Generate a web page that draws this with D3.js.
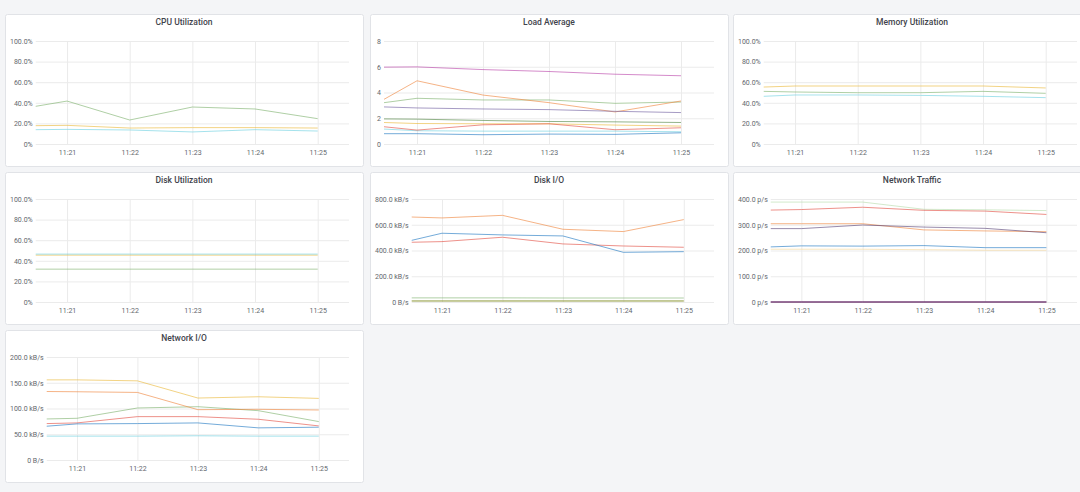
<!DOCTYPE html>
<html>
<head>
<meta charset="utf-8">
<script src="https://cdn.jsdelivr.net/npm/d3@7"></script>
<style>
html, body { margin: 0; padding: 0; background: #f4f5f7; overflow: hidden; }
text { font-family: Roboto, "Noto Sans", sans-serif; }
</style>
</head>
<body>
<div id="dashboard"></div>
<script>
// sample times (first sample sits at the left edge of the range)
const times = ["11:20:30", "11:21:00", "11:22:00", "11:23:00", "11:24:00", "11:25:00"];
const range = ["11:20:30", "11:25:30"];

// CPU Utilization (%)
const cpuA = [36.6, 41.7, 23.3, 35.9, 34.0, 24.6];
const cpuB = [17.8, 18.1, 15.5, 15.9, 15.9, 15.5];
const cpuC = [13.9, 14.2, 13.6, 11.7, 13.9, 12.6];

// Load Average
const loadA = [3.21, 3.55, 3.42, 3.42, 3.16, 3.26];
const loadB = [1.67, 1.59, 1.57, 1.57, 1.47, 1.39];
const loadC = [1.16, 1.03, 1.00, 1.00, 1.00, 0.95];
const loadD = [3.47, 4.91, 3.80, 3.21, 2.49, 3.34];
const loadE = [1.34, 1.08, 1.49, 1.57, 1.11, 1.26];
const loadF = [0.80, 0.80, 0.72, 0.77, 0.75, 0.87];
const loadG = [5.97, 5.99, 5.78, 5.63, 5.42, 5.30];
const loadH = [2.88, 2.80, 2.72, 2.67, 2.54, 2.44];
const loadI = [1.95, 1.93, 1.83, 1.75, 1.72, 1.67];

// Memory Utilization (%)
const memA = [51.1, 50.5, 49.8, 49.8, 51.1, 49.2];
const memB = [55.3, 56.3, 56.3, 56.3, 56.3, 54.4];
const memC = [46.3, 47.6, 47.6, 47.2, 46.3, 45.0];

// Disk Utilization (%)
const diskUtilA = [31.9, 31.9, 31.9, 31.9, 31.9, 31.9];
const diskUtilB = [45.5, 45.5, 45.5, 45.5, 45.5, 45.5];
const diskUtilC = [46.5, 46.5, 46.5, 46.5, 46.5, 46.5];

// Disk I/O (kB/s)
const diskIoA = [32, 32, 32, 31, 31, 31];
const diskIoB = [8, 8, 8, 8, 8, 8];
const diskIoC = [660, 653, 673, 565, 547, 640];
const diskIoD = [464, 469, 503, 451, 435, 425];
const diskIoE = [479, 534, 521, 513, 386, 391];
const diskIoF = [8, 8, 8, 8, 8, 8];

// Network Traffic (p/s)
const trafficA = [388, 388, 388, 360, 358, 355];
const trafficB = [205, 205, 205, 203, 201, 201];
const trafficC = [304, 304, 304, 280, 276, 273];
const trafficD = [357, 359, 368, 356, 353, 340];
const trafficE = [214, 218, 217, 219, 211, 211];
const trafficF = [285, 285, 299, 291, 286, 269];
const trafficG = [0, 0, 0, 0, 0, 0];
const trafficH = [0, 0, 0, 0, 0, 0];
const trafficI = [0, 0, 0, 0, 0, 0];

// Network I/O (kB/s)
const netIoA = [79.7, 81.0, 101.0, 103.5, 95.8, 74.6];
const netIoB = [155.6, 155.6, 153.7, 120.3, 122.8, 119.6];
const netIoC = [46.3, 46.3, 46.3, 47.0, 46.3, 46.3];
const netIoD = [133.0, 132.5, 131.2, 97.7, 98.4, 97.1];
const netIoE = [70.7, 72.0, 84.2, 84.2, 79.1, 66.2];
const netIoF = [65.6, 70.1, 70.7, 72.0, 62.4, 63.7];

const palette = ["#7EB26D", "#EAB839", "#6ED0E0", "#EF843C", "#E24D42", "#1F78C1",
    "#BA43A9", "#705DA0", "#508642", "#CCA300", "#447EBC", "#C15C17", "#890F02",
    "#0A437C", "#6D1F62", "#584477", "#B7DBAB", "#F4D598"];

const pct = v => v === 0 ? "0%" : v.toFixed(1) + "%";
const kBs = v => v === 0 ? "0 B/s" : v.toFixed(1) + " kB/s";
const pps = v => v === 0 ? "0 p/s" : v.toFixed(1) + " p/s";

let panels = [
    {title: "CPU Utilization", max: 100, step: 20, fmt: pct,
     series: [cpuA, cpuB, cpuC], colors: [0, 1, 2]},
    {title: "Load Average", max: 8, step: 2, fmt: d => String(d),
     series: [loadA, loadB, loadC, loadD, loadE, loadF, loadG, loadH, loadI], colors: [0, 1, 2, 3, 4, 5, 6, 7, 8]},
    {title: "Memory Utilization", max: 100, step: 20, fmt: pct,
     series: [memA, memB, memC], colors: [0, 1, 2]},
    {title: "Disk Utilization", max: 100, step: 20, fmt: pct,
     series: [diskUtilA, diskUtilB, diskUtilC], colors: [0, 1, 2]},
    {title: "Disk I/O", max: 800, step: 200, fmt: kBs,
     series: [diskIoA, diskIoB, diskIoC, diskIoD, diskIoE, diskIoF], colors: [0, 1, 3, 4, 5, 8]},
    {title: "Network Traffic", max: 400, step: 100, fmt: pps,
     series: [trafficA, trafficB, trafficC, trafficD, trafficE, trafficF, trafficG, trafficH, trafficI],
     colors: [16, 17, 3, 4, 5, 15, 14, 15, 14]},
    {title: "Network I/O", max: 200, step: 50, fmt: kBs,
     series: [netIoA, netIoB, netIoC, netIoD, netIoE, netIoF], colors: [0, 1, 2, 3, 4, 5]}
];

const colLeft = [5, 370, 733];
const rowTop = [14, 172, 330];
const W = 358, H = 152;
const plotTop = 27, plotBottom = 130;

const parse = d3.timeParse("%H:%M:%S");
const dates = times.map(parse);

const svg = d3.select("#dashboard").append("svg")
    .attr("width", 1080)
    .attr("height", 492);

function drawPanel(p, left, top) {
    const g = svg.append("g")
        .attr("transform", `translate(${left},${top})`);

    g.append("rect")
        .attr("x", 0.5).attr("y", 0.5)
        .attr("width", W).attr("height", H)
        .attr("rx", 2)
        .attr("fill", "#fff")
        .attr("stroke", "#e1e3e7");

    g.append("text")
        .attr("x", W / 2)
        .attr("y", 8)
        .attr("dy", "0.35em")
        .attr("text-anchor", "middle")
        .attr("fill", "#3f444c")
        .style("font-size", "8.5px")
        .style("font-weight", 500)
        .text(p.title);

    const yTicks = d3.range(0, p.max + p.step / 2, p.step);

    // measure the widest y label so the plot starts right after it
    let maxW = 0;
    const probe = g.append("g").style("font-size", "7px");
    probe.selectAll("text").data(yTicks).join("text")
        .text(p.fmt)
        .each(function() { maxW = Math.max(maxW, this.getComputedTextLength()); });
    probe.remove();

    const x0 = 5 + Math.max(maxW, 6) + 3;
    const x1 = W - 14;

    const x = d3.scaleTime()
        .domain(range.map(parse))
        .range([x0, x1]);
    const y = d3.scaleLinear()
        .domain([0, p.max])
        .range([plotBottom, plotTop]);

    g.append("g")
        .attr("transform", `translate(${x0},0)`)
        .call(d3.axisLeft(y).tickValues(yTicks).tickFormat(p.fmt)
            .tickSize(-(x1 - x0)).tickPadding(3))
        .call(a => a.select(".domain").remove())
        .call(a => a.selectAll(".tick line").attr("stroke", "#ebebeb"))
        .call(a => a.selectAll(".tick text").attr("fill", "#63676d")
            .style("font-size", "7px").style("font-family", "Roboto, sans-serif"));

    g.append("g")
        .attr("transform", `translate(0,${plotBottom})`)
        .call(d3.axisBottom(x).ticks(d3.timeMinute.every(1)).tickFormat(d3.timeFormat("%H:%M"))
            .tickSize(-(plotBottom - plotTop)).tickPadding(6))
        .call(a => a.select(".domain").remove())
        .call(a => a.selectAll(".tick line").attr("stroke", "#ebebeb"))
        .call(a => a.selectAll(".tick text").attr("fill", "#63676d")
            .style("font-size", "7px").style("font-family", "Roboto, sans-serif"));

    const line = d3.line()
        .x((d, i) => x(dates[i]))
        .y(d => y(d));

    g.append("g")
        .selectAll("path")
        .data(p.series)
        .join("path")
            .attr("fill", "none")
            .attr("stroke", (d, i) => palette[p.colors[i]])
            .attr("stroke-opacity", 0.62)
            .attr("stroke-width", 1)
            .attr("d", line);
}

panels.forEach((p, i) => drawPanel(p, colLeft[i % 3], rowTop[Math.floor(i / 3)]));
</script>
</body>
</html>
